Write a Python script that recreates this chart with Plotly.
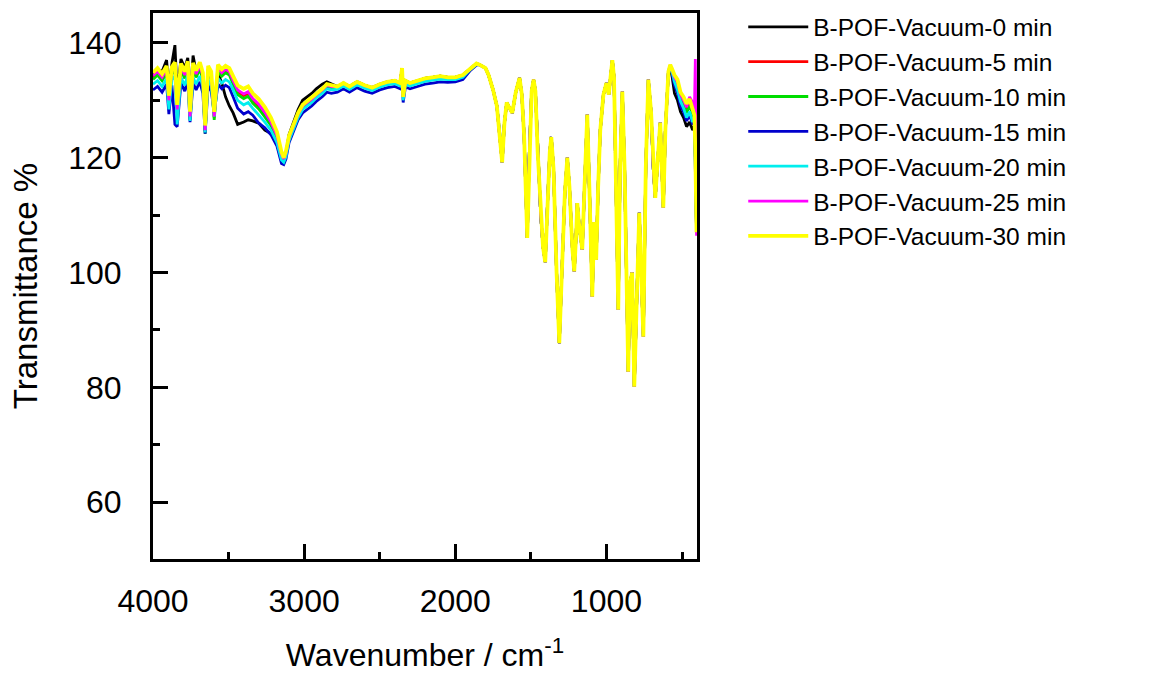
import plotly.graph_objects as go

# ---------------- data ----------------
SERIES_NAMES = ["B-POF-Vacuum-0 min", "B-POF-Vacuum-5 min", "B-POF-Vacuum-10 min",
                "B-POF-Vacuum-15 min", "B-POF-Vacuum-20 min", "B-POF-Vacuum-25 min",
                "B-POF-Vacuum-30 min"]
SERIES_COLORS = ["#000000", "#FF0000", "#00DD00", "#0000CC", "#00EEEE", "#FF00FF", "#FFFF00"]

# 4000-2820 cm-1 (series differ here)
HI_WN = [4000, 3970, 3940, 3910, 3895, 3875, 3855, 3840, 3815, 3790, 3770, 3755, 3735, 3715,
         3690, 3670, 3655, 3635, 3615, 3595, 3570, 3545, 3520, 3495, 3470, 3440, 3400, 3370,
         3340, 3300, 3260, 3220, 3180, 3150, 3135, 3120, 3100, 3070, 3040, 3010, 2980, 2950,
         2920, 2880, 2850, 2820]
HI_0 = [134.2, 135.4, 135.0, 137.0, 132.0, 136.4, 139.6, 131.0, 137.2, 135.6, 137.4, 130.0, 137.8, 135.0,
        136.4, 134.0, 128.0, 135.4, 134.0, 129.0, 134.6, 133.0, 130.6, 129.0, 127.8, 125.8, 126.2, 126.6,
        126.4, 126.0, 124.8, 124.2, 123.4, 120.4, 119.6, 120.8, 124.0, 126.2, 128.4, 130.0, 130.6, 131.2,
        132.0, 132.8, 133.2, 132.8]
HI_5 = [134.0, 134.8, 133.8, 135.2, 129.8, 135.0, 135.8, 128.2, 135.6, 134.2, 136.0, 127.0, 135.7, 134.4,
        135.8, 134.0, 124.6, 135.2, 134.2, 127.0, 135.4, 134.6, 135.2, 134.8, 133.2, 131.5, 130.8, 131.2,
        130.0, 129.0, 127.6, 126.0, 123.6, 120.4, 119.7, 120.8, 123.5, 125.5, 127.5, 128.9, 129.5, 130.1,
        130.9, 131.7, 132.5, 132.3]
HI_10 = [133.6, 134.4, 133.4, 134.8, 129.4, 134.6, 135.4, 127.8, 135.2, 133.8, 135.6, 126.6, 135.3, 134.0,
         135.4, 133.6, 124.2, 134.8, 133.8, 126.6, 135.0, 134.2, 134.8, 134.4, 132.8, 131.0, 130.3, 130.7,
         129.5, 128.5, 127.1, 125.6, 123.2, 120.1, 119.5, 120.6, 123.3, 125.3, 127.3, 128.7, 129.3, 129.9,
         130.7, 131.5, 132.3, 132.1]
HI_15 = [131.8, 132.4, 131.4, 132.8, 127.6, 132.6, 125.8, 125.4, 133.0, 131.6, 133.4, 126.2, 133.0, 131.8,
         133.2, 131.2, 124.2, 132.6, 131.6, 127.8, 132.8, 132.0, 132.6, 132.2, 130.6, 128.6, 127.6, 128.0,
         127.4, 126.0, 125.2, 124.0, 122.0, 119.0, 118.8, 119.8, 122.6, 124.6, 126.6, 127.8, 128.4, 129.0,
         129.8, 130.6, 131.4, 131.2]
HI_20 = [132.8, 133.4, 132.4, 133.8, 128.4, 133.6, 134.2, 125.8, 134.0, 132.6, 134.4, 126.4, 134.0, 132.8,
         134.2, 132.4, 124.4, 133.6, 132.6, 127.2, 133.8, 133.0, 133.6, 133.2, 131.8, 130.0, 129.2, 129.6,
         128.6, 127.4, 126.2, 124.8, 122.6, 119.6, 119.2, 120.2, 123.0, 125.0, 127.0, 128.4, 129.0, 129.6,
         130.4, 131.2, 132.0, 131.8]
HI_25 = [134.3, 135.0, 134.0, 135.4, 130.0, 135.2, 136.0, 128.4, 135.8, 134.4, 136.2, 127.2, 135.9, 134.6,
         136.0, 134.2, 124.8, 135.4, 134.4, 127.2, 135.6, 134.8, 135.4, 135.0, 133.4, 131.8, 131.1, 131.5,
         130.3, 129.3, 127.9, 126.2, 123.8, 120.6, 119.8, 120.9, 123.6, 125.6, 127.6, 129.0, 129.6, 130.2,
         131.0, 131.8, 132.6, 132.4]
HI_30 = [134.8, 135.6, 134.6, 136.0, 130.8, 135.8, 136.6, 129.2, 136.4, 135.0, 136.8, 128.0, 136.5, 135.2,
         136.6, 134.8, 125.6, 136.0, 135.0, 128.0, 136.2, 135.4, 136.0, 135.6, 134.2, 132.6, 132.0, 132.4,
         131.2, 130.2, 128.8, 127.0, 124.5, 121.0, 120.0, 121.2, 123.8, 125.8, 127.8, 129.2, 129.8, 130.4,
         131.2, 132.0, 132.8, 132.6]

# 2780-1860 cm-1
MID_WN = [2780, 2740, 2700, 2650, 2600, 2550, 2500, 2450, 2400, 2365, 2352, 2345, 2330, 2300,
          2250, 2200, 2150, 2100, 2050, 2000, 1950, 1900, 1860]
MID_MAIN = [132.4, 133.0, 132.4, 133.2, 132.6, 132.2, 132.8, 133.2, 133.4, 133.0, 135.6, 130.6, 133.4, 133.0,
            133.4, 133.8, 134.0, 134.2, 134.0, 134.0, 134.4, 135.6, 136.4]
MID_CYAN = [131.9, 132.5, 131.9, 132.7, 132.1, 131.7, 132.3, 132.7, 132.9, 132.5, 135.0, 130.0, 132.8, 132.5,
            132.9, 133.3, 133.5, 133.7, 133.6, 133.6, 134.0, 135.4, 136.2]
MID_BLUE = [131.4, 132.0, 131.4, 132.2, 131.6, 131.2, 131.8, 132.2, 132.4, 132.0, 134.6, 129.6, 132.3, 132.0,
            132.4, 132.8, 133.0, 133.2, 133.1, 133.2, 133.6, 135.2, 136.1]

# 1840-590 cm-1 (all series overlap)
LOW_WN = [1840, 1800, 1780, 1750, 1725, 1705, 1690, 1675, 1660, 1640, 1623, 1600, 1575, 1560, 1545,
          1524, 1510, 1495, 1482, 1470, 1455, 1435, 1420, 1405, 1390, 1375, 1365, 1350, 1330, 1312,
          1295, 1275, 1259, 1245, 1225, 1213, 1200, 1193, 1180, 1160, 1145, 1127, 1110, 1094, 1081,
          1068, 1055, 1041, 1020, 1000, 985, 972, 961, 950, 935, 922, 910, 895, 880, 856,
          845, 830, 816, 800, 783, 770, 756, 740, 723, 705, 690, 677, 660, 644, 624, 610, 590]
LOW_ALL = [136.2, 135.6, 134.4, 131.8, 129.0, 124.0, 119.2, 126.0, 129.6, 128.6, 127.8, 131.4, 133.9, 131.0, 124.0,
           106.0, 121.0, 131.6, 133.6, 131.6, 121.0, 110.0, 104.5, 101.8, 112.0, 121.0, 123.6, 118.0, 100.0, 87.7,
           100.0, 114.0, 120.0, 115.0, 104.0, 100.2, 107.0, 112.1, 108.0, 104.0, 115.0, 127.5, 112.0, 95.8, 108.8,
           102.2, 115.0, 124.8, 131.0, 133.0, 131.0, 135.0, 137.0, 134.0, 110.0, 93.5, 118.0, 131.5, 118.0, 82.7,
           98.0, 100.0, 80.1, 96.0, 110.4, 100.0, 88.8, 118.0, 133.6, 128.0, 118.0, 113.0, 120.0, 126.1, 111.3,
           125.0, 135.0]

# 578-404 cm-1 (series differ again)
END_WN = [578, 565, 550, 530, 510, 490, 470, 450, 430, 418, 412, 404]
END_0 = [135.6, 134.0, 131.2, 130.0, 128.0, 127.0, 125.4, 126.2, 124.8, 125.6, 120.0, 107.0]
END_5 = [136.0, 135.2, 133.8, 132.8, 130.6, 129.8, 128.4, 129.6, 128.0, 127.0, 120.6, 107.0]
END_10 = [135.9, 135.0, 133.4, 132.4, 130.2, 129.2, 127.8, 129.0, 127.4, 126.8, 120.4, 107.0]
END_15 = [135.6, 134.6, 132.6, 131.2, 129.0, 128.0, 126.4, 127.4, 125.8, 126.2, 120.0, 107.0]
END_20 = [135.8, 134.8, 133.2, 131.8, 129.8, 128.6, 127.0, 128.0, 126.2, 127.0, 120.2, 107.0]
END_25 = [136.1, 135.3, 134.0, 133.2, 131.0, 130.0, 128.8, 130.6, 129.6, 128.4, 137.2, 106.4]
END_30 = [136.2, 135.4, 134.4, 133.6, 131.4, 130.6, 129.4, 130.2, 128.6, 127.4, 121.0, 107.0]

X_TICKS = [4000, 3000, 2000, 1000]
X_MINOR = [3500, 2500, 1500, 500]
Y_TICKS = [60, 80, 100, 120, 140]
Y_MINOR = [70, 90, 110, 130]

HI = [HI_0, HI_5, HI_10, HI_15, HI_20, HI_25, HI_30]
MID = [MID_MAIN, MID_MAIN, MID_MAIN, MID_BLUE, MID_CYAN, MID_MAIN, MID_MAIN]
END = [END_0, END_5, END_10, END_15, END_20, END_25, END_30]

# ---------------- figure ----------------
FONT = "Liberation Sans, Arial, sans-serif"
fig = go.Figure()
wn_all = HI_WN + MID_WN + LOW_WN + END_WN
for i, name in enumerate(SERIES_NAMES):
    vals = HI[i] + MID[i] + LOW_ALL + END[i]
    fig.add_trace(go.Scatter(x=wn_all, y=vals, mode="lines", name=name,
                             line=dict(color=SERIES_COLORS[i], width=3.8 if i == 6 else 2.8)))

axis_common = dict(showline=True, linewidth=3, linecolor="black", mirror=True,
                   showgrid=False, zeroline=False, ticks="inside", ticklen=15, tickwidth=3,
                   tickcolor="black", tickfont=dict(family=FONT, size=32, color="black"),
                   automargin=False)
fig.update_xaxes(range=[4000, 401], tickvals=X_TICKS, ticklabelstandoff=12,
                 minor=dict(tickvals=X_MINOR, ticks="inside", ticklen=7, tickwidth=3, tickcolor="black"),
                 title=dict(text="Wavenumber / cm<sup>-1</sup>", font=dict(family=FONT, size=32, color="black"),
                            standoff=26),
                 **axis_common)
fig.update_yaxes(range=[50.1, 145.2], tickvals=Y_TICKS, ticklabelstandoff=22,
                 minor=dict(tickvals=Y_MINOR, ticks="inside", ticklen=7, tickwidth=3, tickcolor="black"),
                 title=dict(text="Transmittance %", font=dict(family=FONT, size=33, color="black"),
                            standoff=21),
                 **axis_common)
fig.update_layout(width=1153, height=674,
                  margin=dict(l=153, r=456, t=13, b=115, pad=0, autoexpand=False),
                  paper_bgcolor="white", plot_bgcolor="white", showlegend=True,
                  legend=dict(x=1.085, y=1.0158, xanchor="left", yanchor="top", itemwidth=60,
                              font=dict(family=FONT, size=24.5, color="black"),
                              bgcolor="rgba(0,0,0,0)", borderwidth=0, tracegroupgap=0))
fig.write_html("out.html")
